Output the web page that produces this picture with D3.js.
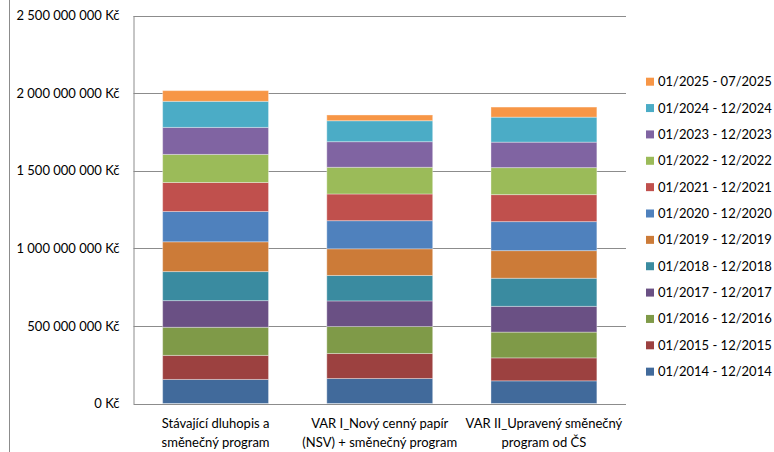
<!DOCTYPE html>
<html>
<head>
<meta charset="utf-8">
<script src="https://cdn.jsdelivr.net/npm/d3@7"></script>
<style>
  html, body { margin: 0; padding: 0; background: #fff; }
  svg { display: block; font-family: Lato, "Liberation Sans", sans-serif; }
</style>
</head>
<body>
<svg id="chart" width="774" height="452"></svg>
<script>
// ---- data (values in CZK) ----
const categories = [
  ["Stávající dluhopis a", "směnečný program"],
  ["VAR I_Nový cenný papír", "(NSV) + směnečný program"],
  ["VAR II_Upravený směnečný", "program od ČS"]
];
const seriesNames = [
  "01/2014 - 12/2014", "01/2015 - 12/2015", "01/2016 - 12/2016",
  "01/2017 - 12/2017", "01/2018 - 12/2018", "01/2019 - 12/2019",
  "01/2020 - 12/2020", "01/2021 - 12/2021", "01/2022 - 12/2022",
  "01/2023 - 12/2023", "01/2024 - 12/2024", "01/2025 - 07/2025"
];
const s2014 = [155e6, 161e6, 146e6];
const s2015 = [155e6, 161e6, 148e6];
const s2016 = [181e6, 174e6, 166e6];
const s2017 = [172e6, 165e6, 166e6];
const s2018 = [187e6, 164e6, 181e6];
const s2019 = [192e6, 172e6, 178e6];
const s2020 = [195e6, 181e6, 187e6];
const s2021 = [187e6, 172e6, 174e6];
const s2022 = [181e6, 172e6, 174e6];
const s2023 = [174e6, 165e6, 164e6];
const s2024 = [168e6, 135e6, 161e6];
const s2025 = [69e6, 37e6, 65e6];
const seriesValues = [s2014, s2015, s2016, s2017, s2018, s2019, s2020, s2021, s2022, s2023, s2024, s2025];
const colors = ["#416A9B", "#9C4140", "#7F9A48", "#6A5084", "#3A8BA0", "#CC7B38",
                "#4F81BD", "#C0504D", "#9BBB59", "#8064A2", "#4BACC6", "#F79646"];
const tickValues = [0, 500e6, 1000e6, 1500e6, 2000e6, 2500e6];

(function () {
// ---- build table ----
const keys = seriesNames;
const table = categories.map((c, i) => {
  const row = { cat: i };
  keys.forEach((k, j) => row[k] = seriesValues[j][i]);
  return row;
});
const stack = d3.stack().keys(keys)(table);

// ---- layout ----
const svg = d3.select("#chart");
const mLeft = 133.5, mRight = 626, mTop = 15.5, mBottom = 403.5;

const x = d3.scaleBand().domain(d3.range(categories.length)).range([mLeft, mRight]).padding(0);
const barW = x.bandwidth() * 0.645;
const y = d3.scaleLinear().domain([0, 2500e6]).range([mBottom, mTop]);

const loc = d3.formatLocale({ decimal: ",", thousands: " ", grouping: [3], currency: ["", " Kč"] });
const fmt = loc.format("$,.0f");

// frame edge at left
svg.append("line").attr("x1", 9.5).attr("x2", 9.5).attr("y1", 0).attr("y2", 452)
  .attr("stroke", "#8c8c8c").attr("stroke-width", 1);

// gridlines
svg.append("g").selectAll("line").data(tickValues).join("line")
  .attr("x1", mLeft).attr("x2", mRight)
  .attr("y1", d => Math.round(y(d)) + 0.5).attr("y2", d => Math.round(y(d)) + 0.5)
  .attr("stroke", "#8c8c8c").attr("stroke-width", 1);

// y axis
const yAxis = d3.axisLeft(y).tickValues(tickValues).tickFormat(fmt).tickSize(0).tickPadding(14);
const gy = svg.append("g").attr("transform", `translate(${mLeft},0)`).call(yAxis);
gy.select(".domain").attr("stroke", "#8c8c8c");
gy.selectAll("text").attr("font-size", 13).attr("fill", "#000").attr("font-family", null);
gy.attr("font-family", null);

// bars
svg.append("g").selectAll("g").data(stack).join("g")
  .attr("fill", (d, i) => colors[i])
  .selectAll("rect").data(d => d).join("rect")
  .attr("x", (d, i) => x(i) + (x.bandwidth() - barW) / 2)
  .attr("width", barW)
  .attr("y", d => y(d[1]))
  .attr("height", d => y(d[0]) - y(d[1]))
  .attr("stroke", "rgba(255,255,255,0.35)")
  .attr("stroke-width", 1);

// x axis labels
const gx = svg.append("g");
categories.forEach((lines, i) => {
  const cx = x(i) + x.bandwidth() / 2;
  const t = gx.append("text")
    .attr("x", cx)
    .attr("y", 427.5)
    .attr("text-anchor", "middle")
    .attr("font-size", 13)
    .attr("fill", "#000");
  lines.forEach((ln, k) => {
    t.append("tspan").attr("x", cx).attr("dy", k === 0 ? 0 : 19).text(ln);
  });
});

// legend (top: newest)
const legendOrder = d3.range(seriesNames.length).reverse();
const lg = svg.append("g");
legendOrder.forEach((si, r) => {
  const cy = 81.7 + r * 26.36;
  lg.append("rect").attr("x", 646).attr("y", cy - 4).attr("width", 8).attr("height", 8).attr("fill", colors[si]);
  lg.append("text").attr("x", 658).attr("y", cy).attr("dy", "0.35em")
    .attr("font-size", 13).attr("fill", "#000").text(seriesNames[si]);
});
})();
</script>
</body>
</html>
